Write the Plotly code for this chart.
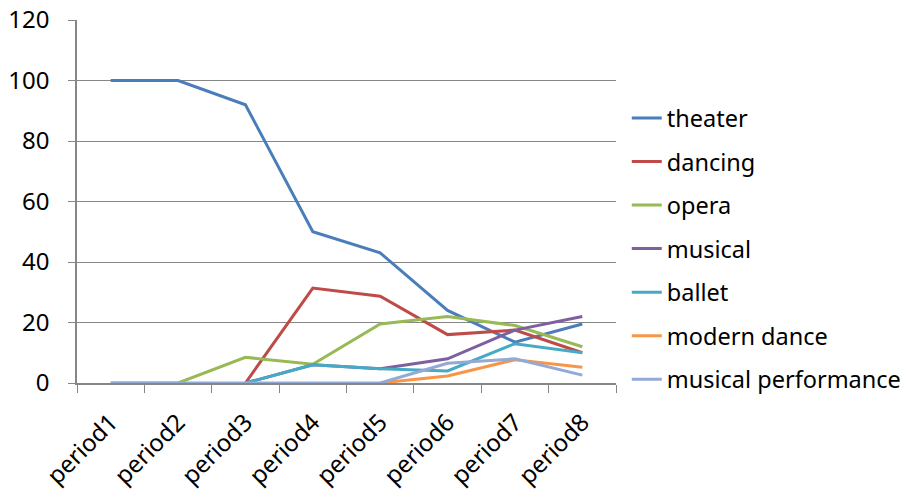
import plotly.graph_objects as go

periods = ["period1", "period2", "period3", "period4", "period5", "period6", "period7", "period8"]
theater = [100, 100, 92, 50, 43, 24, 13.5, 19.5]
dancing = [None, None, 0, 31.4, 28.7, 16, 17.5, 10]
opera = [0, 0, 8.5, 6.2, 19.5, 22, 19, 12]
musical = [None, None, 0, 6, 4.7, 8, 17.5, 22]
ballet = [None, None, 0, 6, 4.7, 4, 13, 10]
modern_dance = [None, None, None, None, 0, 2.3, 7.7, 5.2]
musical_performance = [0, 0, 0, 0, 0, 6.5, 8, 2.6]

series = [
    ("theater", theater, "#4A7EBB"),
    ("dancing", dancing, "#BE4B48"),
    ("opera", opera, "#98B954"),
    ("musical", musical, "#7D60A0"),
    ("ballet", ballet, "#46AAC5"),
    ("modern dance", modern_dance, "#F79646"),
    ("musical performance", musical_performance, "#93A9D6"),
]

fig = go.Figure()
for name, vals, color in series:
    fig.add_trace(go.Scatter(
        x=periods, y=vals, name=name, mode="lines",
        line=dict(color=color, width=3),
        legendgroup=name,
    ))

font = dict(family="Noto Sans, DejaVu Sans, sans-serif", size=24, color="black")

fig.update_layout(
    width=911, height=497,
    margin=dict(l=77, r=295, t=20, b=114, autoexpand=False),
    paper_bgcolor="white", plot_bgcolor="white",
    font=font,
    showlegend=True,
    legend=dict(
        x=1.02, y=0.37, xanchor="left", yanchor="middle",
        font=dict(family="Noto Sans, DejaVu Sans, sans-serif", size=23.5, color="black"),
        tracegroupgap=10, itemwidth=30,
        bgcolor="rgba(0,0,0,0)",
    ),
    xaxis=dict(
        type="category", tickson="boundaries", ticks="outside", ticklen=8,
        tickcolor="#868686", showline=True, linecolor="#868686", linewidth=1.5,
        showgrid=False, tickangle=-45, range=[-0.5, 7.5], automargin=False,
        tickfont=font, ticklabelstandoff=14, ticklabeloverflow="allow",
    ),
    yaxis=dict(
        range=[0, 120.01], tickvals=[0, 20, 40, 60, 80, 100, 120], ticks="outside", ticklen=7,
        tickcolor="#868686", showline=True, linecolor="#868686", linewidth=1.5,
        showgrid=True, gridcolor="#868686", gridwidth=1, zeroline=False,
        automargin=False, tickfont=font, ticklabelstandoff=14, ticklabeloverflow="allow",
    ),
)

fig.write_html("out.html", config={"displayModeBar": False},
               post_script="document.body.style.margin='0';")
